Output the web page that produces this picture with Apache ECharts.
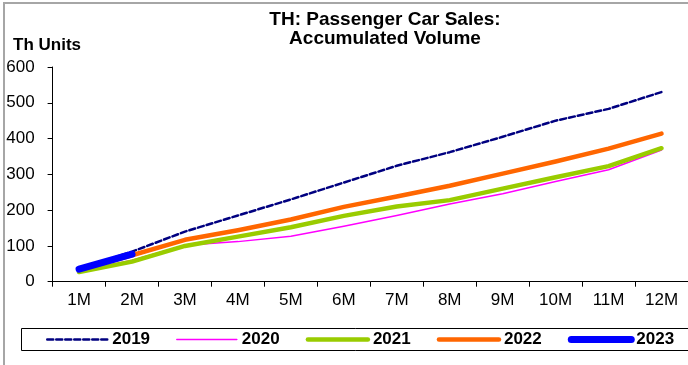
<!DOCTYPE html>
<html>
<head>
<meta charset="utf-8">
<script src="https://cdn.jsdelivr.net/npm/echarts@6/dist/echarts.min.js"></script>
<style>
  html, body { margin: 0; padding: 0; background: #fff; }
  #chart { width: 688px; height: 365px; }
</style>
</head>
<body>
<div id="chart"></div>
<script>
// Months of the year (cumulative sales to date)
const months = ['1M', '2M', '3M', '4M', '5M', '6M', '7M', '8M', '9M', '10M', '11M', '12M'];

// Accumulated passenger car sales, thousand units
const sales2019 = [35, 84, 140, 185, 230, 277, 324, 362, 405, 450, 483, 530];
const sales2020 = [28, 60, 102, 112, 127, 155, 185, 217, 246, 280, 313, 368];
const sales2021 = [27, 56, 100, 126, 152, 184, 210, 228, 260, 292, 323, 373];
const sales2022 = [33, 74, 117, 144, 174, 209, 238, 268, 302, 336, 372, 414];
const sales2023 = [35, 77];

const yearNames = ['2019', '2020', '2021', '2022', '2023'];

const FONT = '"Liberation Sans", Arial, sans-serif';

const styles = {
  '2019': { color: '#000080', width: 2.5, dash: [6, 3] },
  '2020': { color: '#ff00ff', width: 1.5 },
  '2021': { color: '#99cc00', width: 4.5 },
  '2022': { color: '#ff6600', width: 4.5 },
  '2023': { color: '#0000ff', width: 7 }
};

function lineStyleOf(name) {
  const s = styles[name];
  return { color: s.color, width: s.width, type: s.dash || 'solid', cap: 'round', join: 'round' };
}

function lineSeries(name, data) {
  return {
    name: name,
    type: 'line',
    data: data,
    symbol: 'none',
    smooth: false,
    lineStyle: lineStyleOf(name),
    itemStyle: { color: styles[name].color },
    emphasis: { disabled: true }
  };
}

const chart = echarts.init(document.getElementById('chart'), null, { renderer: 'canvas' });

chart.setOption({
  animation: false,
  backgroundColor: '#ffffff',
  title: [
    {
      text: 'TH: Passenger Car Sales:\nAccumulated Volume',
      left: 385,
      top: 10,
      padding: 0,
      textAlign: 'center',
      textStyle: { fontFamily: FONT, fontSize: 19, fontWeight: 'bold', color: '#000', lineHeight: 19 }
    },
    {
      text: 'Th Units',
      left: 13,
      top: 37,
      padding: 0,
      textStyle: { fontFamily: FONT, fontSize: 17, fontWeight: 'bold', color: '#000' }
    }
  ],
  grid: { left: 52.6, top: 67, width: 638.6, height: 214.7, containLabel: false },
  xAxis: {
    type: 'category',
    data: months,
    boundaryGap: true,
    axisLine: { show: true, lineStyle: { color: '#000', width: 1 } },
    axisTick: { show: true, length: 5, interval: 0, lineStyle: { color: '#000' } },
    axisLabel: { interval: 0, margin: 10, color: '#000', fontFamily: FONT, fontSize: 17 },
    splitLine: { show: false }
  },
  yAxis: {
    type: 'value',
    min: 0,
    max: 600,
    interval: 100,
    axisLine: { show: true, lineStyle: { color: '#000', width: 1 } },
    axisTick: { show: true, length: 5, lineStyle: { color: '#000' } },
    axisLabel: { margin: 18, color: '#000', fontFamily: FONT, fontSize: 17 },
    splitLine: { show: false }
  },
  legend: {
    data: yearNames.map(function (n) {
      return { name: n, lineStyle: lineStyleOf(n), itemStyle: { opacity: 0 } };
    }),
    left: 21,
    top: 328,
    orient: 'horizontal',
    itemWidth: 60,
    itemHeight: 14,
    itemGap: 26,
    padding: [3, 2, 3, 25],
    selectedMode: false,
    itemStyle: { opacity: 0 },
    textStyle: { fontFamily: FONT, fontSize: 17, fontWeight: 'bold', color: '#000' }
  },
  graphic: [
    { type: 'line', shape: { x1: 3, y1: 3, x2: 688, y2: 3 }, style: { stroke: '#a6a6a6', lineWidth: 2 }, silent: true },
    { type: 'line', shape: { x1: 4, y1: 3, x2: 4, y2: 365 }, style: { stroke: '#a6a6a6', lineWidth: 2 }, silent: true },
    // legend frame
    { type: 'rect', shape: { x: 21.5, y: 328.5, width: 680, height: 22 }, style: { fill: 'none', stroke: '#000', lineWidth: 1 }, silent: true, z: -1 }
  ],
  series: yearNames.map(function (n, i) {
    return lineSeries(n, [sales2019, sales2020, sales2021, sales2022, sales2023][i]);
  })
});
</script>
</body>
</html>
